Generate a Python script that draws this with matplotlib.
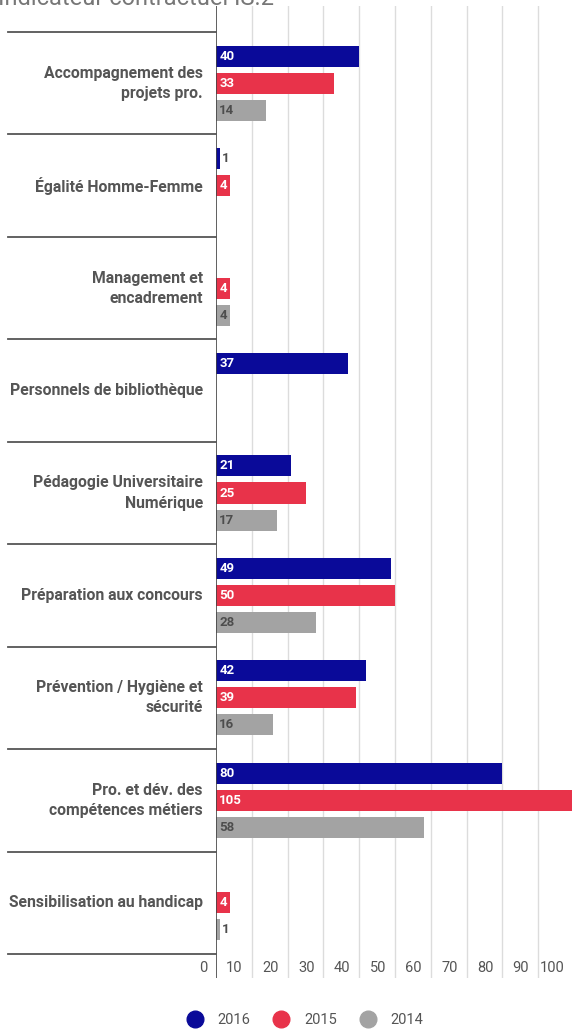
import numpy as np
import matplotlib.pyplot as plt

plt.rcParams['font.family'] = ['Roboto', 'DejaVu Sans']

categories = ['Accompagnement des\nprojets pro.', 'Égalité Homme-Femme',
              'Management et\nencadrement', 'Personnels de bibliothèque',
              'Pédagogie Universitaire\nNumérique', 'Préparation aux concours',
              'Prévention / Hygiène et\nsécurité', 'Pro. et dév. des\ncompétences métiers',
              'Sensibilisation au handicap']
years = ['2016', '2015', '2014']
v2016 = [40, 1, None, 37, 21, 49, 42, 80, None]
v2015 = [33, 4, 4, None, 25, 50, 39, 105, 4]
v2014 = [14, None, 4, None, 17, 28, 16, 58, 1]
colors = ['#0a0a99', '#e8334a', '#a3a3a3']
txt_colors = ['white', 'white', '#4d4d4d']
xticks = [0, 10, 20, 30, 40, 50, 60, 70, 80, 90, 100]

W, H = 572, 1032
fig = plt.figure(figsize=(W / 100, H / 100), dpi=100)
ax = fig.add_axes([216 / W, 1 - 978 / H, 1 - 216 / W, (978 - 6) / H])

n = len(categories)
band = 102.4
px = 3.58  # pixels per unit
ax.set_xlim(0, (W - 216) / px)
ax.set_ylim(n - 0.5 + (978 - 954) / band, -0.5 - (32 - 6) / band)

for x in xticks[1:]:
    ax.axvline(x, color='#dcdcdc', lw=1, zorder=0)
ax.axvline(0, color='#444444', lw=1.2, zorder=3)

h = 21 / band
step = 27 / band
for k, vals in enumerate([v2016, v2015, v2014]):
    for i, v in enumerate(vals):
        if v is None:
            continue
        y = i + (k - 1) * step
        ax.barh(y, v, height=h, color=colors[k], zorder=2)
        if v < 3:
            ax.text(v + 0.6, y, str(v), color='#4d4d4d', fontsize=9.5, fontweight='bold',
                    va='center', ha='left', zorder=4)
        else:
            ax.text(0.9, y, str(v), color=txt_colors[k], fontsize=9.5, fontweight='bold',
                    va='center', ha='left', zorder=4)

for i, c in enumerate(categories):
    ax.text(-13 / px, i, c, ha='right', va='center', fontsize=11.3, fontweight='bold',
            color='#555555', linespacing=1.42, clip_on=False)

for b in range(n + 1):
    ax.plot([-208 / px, 0], [b - 0.5, b - 0.5], color='#555555', lw=1.3, clip_on=False, zorder=3)

ytick = n - 0.5 + 14 / band
for x in xticks:
    ax.text(x - 9 / px, ytick, str(x), ha='right', va='center', fontsize=10.5, color='#555555',
            clip_on=False)

for s in ax.spines.values():
    s.set_visible(False)
ax.set_xticks([])
ax.set_yticks([])

handles = [plt.Line2D([], [], marker='o', ls='', color=c, markersize=12) for c in colors]
fig.legend(handles, years, loc='center', bbox_to_anchor=(0.534, 1 - 1020 / H), ncol=3,
           frameon=False, fontsize=10.5, handlelength=1, handletextpad=1.05,
           columnspacing=1.65, labelcolor='#555555')

fig.text(-0.004, 1 - 5 / H, 'Indicateur contractuel IS.2', fontsize=17, color='#777777',
         va='baseline', ha='left')

fig.savefig('out.png', dpi=100)
